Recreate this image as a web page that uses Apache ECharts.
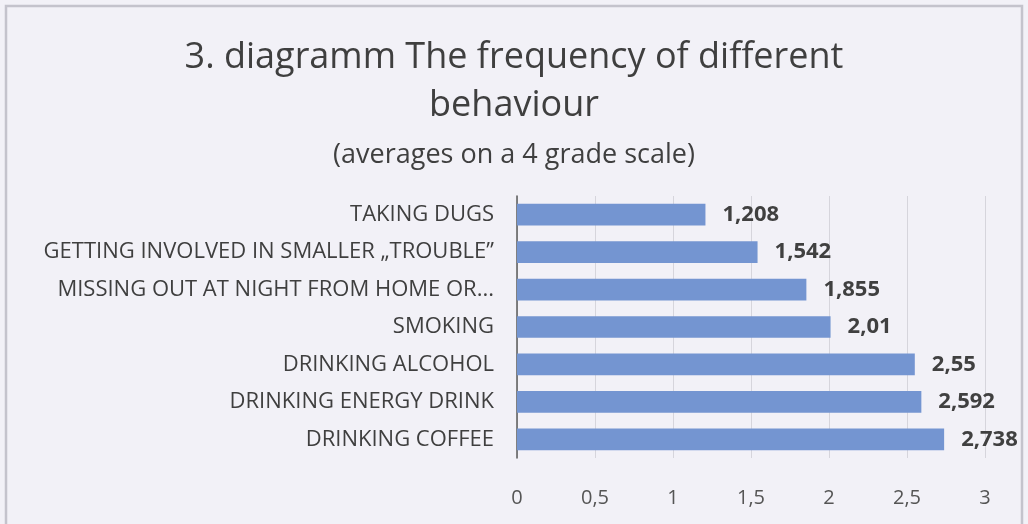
<!DOCTYPE html>
<html>
<head>
<meta charset="utf-8">
<script src="https://cdn.jsdelivr.net/npm/echarts@6/dist/echarts.min.js"></script>
<style>
html,body{margin:0;padding:0;background:#f2f1f7;}
#chart{width:1028px;height:524px;}
</style>
</head>
<body>
<div id="chart"></div>
<script>
const categories = [
  'DRINKING COFFEE',
  'DRINKING ENERGY DRINK',
  'DRINKING ALCOHOL',
  'SMOKING',
  'MISSING OUT AT NIGHT FROM HOME OR...',
  'GETTING INVOLVED IN SMALLER \u201eTROUBLE\u201d',
  'TAKING DUGS'
];
const values = [2.738, 2.592, 2.55, 2.01, 1.855, 1.542, 1.208];
const axisTicks = [0, 0.5, 1, 1.5, 2, 2.5, 3];
const titleLine1 = '3. diagramm The frequency of different';
const titleLine2 = 'behaviour';
const subtitle = '(averages on a 4 grade scale)';

const FONT = 'Open Sans';
const chart = echarts.init(document.getElementById('chart'));
chart.setOption({
  backgroundColor: '#f2f1f7',
  animation: false,
  title: [
    {text: titleLine1, left: 'center', top: 35, textStyle: {fontFamily: FONT, fontSize: 36, fontWeight: 'normal', color: '#3f3f3f'}},
    {text: titleLine2, left: 'center', top: 83, textStyle: {fontFamily: FONT, fontSize: 36, fontWeight: 'normal', color: '#3f3f3f'}},
    {text: subtitle, left: 'center', top: 137, textStyle: {fontFamily: FONT, fontSize: 27, fontWeight: 'normal', color: '#3f3f3f'}}
  ],
  graphic: [{
    type: 'rect', shape: {x: 6, y: 6, width: 1016, height: 530},
    style: {fill: 'none', stroke: '#c4c3cc', lineWidth: 2.5}, silent: true
  }],
  grid: {left: 517, right: 43, top: 196, bottom: 66, containLabel: false},
  xAxis: {
    type: 'value', min: axisTicks[0], max: axisTicks[axisTicks.length - 1], interval: 0.5,
    axisLine: {show: false}, axisTick: {show: false},
    splitLine: {show: true, lineStyle: {color: '#d6d5dc', width: 1}},
    axisLabel: {
      margin: 30, fontFamily: FONT, fontSize: 20, color: '#555555',
      formatter: v => String(v).replace('.', ',')
    }
  },
  yAxis: {
    type: 'category', data: categories,
    axisLine: {show: true, lineStyle: {color: '#5a5a5a', width: 1.5}},
    axisTick: {show: false},
    axisLabel: {margin: 23, fontFamily: FONT, fontSize: 22, color: '#3f3f3f'}
  },
  series: [{
    type: 'bar', data: values, barCategoryGap: '42%',
    itemStyle: {color: '#7495d1'},
    label: {
      show: true, position: 'right', distance: 17,
      fontFamily: FONT, fontSize: 22, fontWeight: 'bold', color: '#404040',
      formatter: p => String(p.value).replace('.', ',')
    }
  }]
});
</script>
</body>
</html>
